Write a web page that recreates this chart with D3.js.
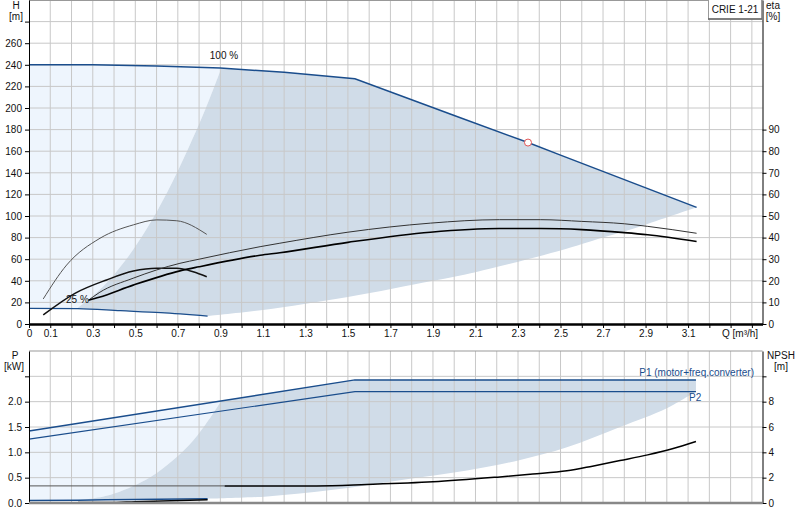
<html>
  <head>
    <title>CRIE 1-21</title>
    <script type="text/javascript" src="https://cdn.jsdelivr.net/npm/d3@7"></script>
    <style type="text/css">

body {
  margin: 0;
  font: 10px "Liberation Sans", Arial, sans-serif;
}

.grid line {
  stroke: #c8c8c8;
  stroke-width: 1px;
}

.axis text {
  font: 10px "Liberation Sans", Arial, sans-serif;
  fill: #111;
}

.axis line, .axis path {
  stroke: #000;
}

.curve {
  fill: none;
}

    </style>
  </head>
  <body>
    <script type="text/javascript">

// head at 100 % and 25 % speed
var qHead100 = [0, 0.3, 0.6, 0.9, 1.2, 1.533, 2.0, 2.347, 2.5, 3.14],
    head100  = [240, 240, 239, 237, 233, 227, 193, 168, 156.4, 108];
var qHead25 = [0, 0.23, 0.43, 0.62, 0.84],
    head25  = [14.5, 14.2, 12.3, 10.5, 7.3];

// operating range boundaries (top panel)
var qEdgeTop = [0.23, 0.35, 0.45, 0.55, 0.65, 0.75, 0.83, 0.905],
    hEdgeTop = [15, 35, 58, 87, 122, 163, 199, 237];
var qLowTop = [0.84, 1.1, 1.5, 1.9, 2.1, 2.5, 2.7, 2.9, 3.14],
    hLowTop = [7.3, 13, 25, 40, 48, 68, 80, 92, 108];

// efficiency, full speed
var qEta = [0.28, 0.33, 0.49, 0.71, 0.80, 1.087, 1.18, 1.5, 1.888, 2.212, 2.407, 2.6, 2.8, 2.91, 3.14],
    etaPump  = [11, 14.5, 21.2, 28.1, 30, 35.8, 37.4, 42.5, 46.7, 48.3, 48.3, 47.5, 46.4, 45.2, 42],
    etaTotal = [11, 12.4, 18.0, 24.6, 26.5, 31.8, 33.0, 37.8, 42.5, 44.2, 44.2, 43.7, 42.3, 41.3, 38.2];

// efficiency, min speed
var qEtaMinPump = [0.067, 0.177, 0.334, 0.491, 0.601, 0.695, 0.836],
    etaMinPump  = [11.6, 27.3, 39.7, 45.9, 48.2, 47.8, 41.5];
var qEtaMinTotal = [0.067, 0.216, 0.365, 0.491, 0.601, 0.695, 0.772, 0.836],
    etaMinTotal  = [4.2, 14.2, 20.4, 24.5, 25.8, 25.8, 24.2, 21.9];

// duty point
var dutyQ = 2.347, dutyH = 168;

// power
var qPower = [0, 1.533, 3.137],
    powerP1 = [1.42, 2.43, 2.43],
    powerP2 = [1.26, 2.20, 2.20];
var qPowerMin = [0, 0.23, 0.5, 0.84],
    powerMinP1 = [0.05, 0.055, 0.07, 0.085];

// operating range boundaries (bottom panel)
var qEdgeBot = [0.23, 0.38, 0.55, 0.65, 0.75, 0.83, 0.905],
    pEdgeBot = [0.055, 0.16, 0.46, 0.75, 1.13, 1.55, 2.02];
var qLowBot = [0.84, 1.12, 1.43, 1.745, 2.06, 2.31, 2.53, 2.78, 3.0, 3.137],
    pLowBot = [0.085, 0.13, 0.26, 0.45, 0.64, 0.85, 1.1, 1.5, 1.87, 2.2];

// NPSH
var qNpshFlat = [0, 0.92],
    npshFlat  = [1.35, 1.35];
var qNpsh = [0.92, 1.353, 1.588, 1.90, 2.215, 2.37, 2.53, 2.65, 2.78, 2.91, 3.03, 3.137],
    npsh  = [1.35, 1.35, 1.46, 1.67, 2.06, 2.28, 2.54, 2.91, 3.35, 3.8, 4.3, 4.85];
var qNpshMin = [0.23, 0.38, 0.5, 0.84],
    npshMin  = [0.03, 0.03, 0.1, 0.25];

// ticks
var qTicks = d3.range(0, 35).map(function(i) { return i / 10; });
var hTicks = d3.range(0, 281, 20),
    etaTicks = d3.range(0, 91, 10),
    pTicks = [0, 0.5, 1, 1.5, 2, 2.5],
    npshTicks = [0, 2, 4, 6, 8, 10];

var w = 800, h = 520;

var x = d3.scaleLinear().domain([0, 3.45]).range([29, 762.5]),
    yH = d3.scaleLinear().domain([0, 300]).range([324, 0]),
    yEta = d3.scaleLinear().domain([0, 150]).range([324, 0]),
    yP = d3.scaleLinear().domain([0, 3]).range([503, 351]),
    yN = d3.scaleLinear().domain([0, 12]).range([503, 351]);

var blue = "#1a4d8c", light = "#eef5fd", dark = "#d0dce8";

var svg = d3.select("body").append("svg")
    .attr("width", w)
    .attr("height", h);

function pts(qs, vs, ys) {
  return qs.map(function(q, i) { return [x(q), ys(vs[i])]; });
}

function seg(p, curve, first) {
  var s = d3.line().curve(curve)(p);
  return first ? s : s.replace(/^M/, "L");
}

var lin = d3.curveLinear, cr = d3.curveCatmullRom.alpha(0.5), mono = d3.curveMonotoneX;

// ---- top panel fills
var top100 = pts(qHead100, head100, yH);
var headLeft = top100.filter(function(d, i) { return qHead100[i] <= 0.9; });
var headRight = top100.filter(function(d, i) { return qHead100[i] > 0.9; });
var edgeTop = pts(qEdgeTop, hEdgeTop, yH);
var low25 = pts(qHead25, head25, yH);

var lightTop = seg(headLeft.concat([edgeTop[edgeTop.length - 1]]), lin, true)
    + seg(edgeTop.slice().reverse(), cr)
    + seg(low25.filter(function(d, i) { return qHead25[i] <= 0.23; }).reverse(), lin)
    + "Z";

var darkTop = seg([edgeTop[edgeTop.length - 1]].concat(headRight), lin, true)
    + seg(pts(qLowTop, hLowTop, yH).reverse(), cr)
    + seg(low25.filter(function(d, i) { return qHead25[i] >= 0.23; }).reverse(), cr)
    + seg(edgeTop, cr)
    + "Z";

svg.append("path").attr("d", lightTop).attr("fill", light);
svg.append("path").attr("d", darkTop).attr("fill", dark);

// ---- bottom panel fills
var p1 = pts(qPower, powerP1, yP);
var edgeBot = pts(qEdgeBot, pEdgeBot, yP);
var minP1 = pts(qPowerMin, powerMinP1, yP);
var crossPt = edgeBot[edgeBot.length - 1];

var lightBot = seg([p1[0], crossPt], lin, true)
    + seg(edgeBot.slice().reverse(), cr)
    + seg(minP1.filter(function(d, i) { return qPowerMin[i] <= 0.23; }).reverse(), lin)
    + "Z";

var lowBot = pts(qLowBot, pLowBot, yP);
var darkBot = seg([crossPt, p1[1], p1[2]], lin, true)
    + seg(lowBot.slice().reverse(), cr)
    + seg(minP1.filter(function(d, i) { return qPowerMin[i] >= 0.23; }).reverse(), lin)
    + seg(edgeBot, cr)
    + "Z";

svg.append("path").attr("d", lightBot).attr("fill", light);
svg.append("path").attr("d", darkBot).attr("fill", dark);

// ---- grid
var grid = svg.append("g").attr("class", "grid");

[[0, 324], [351, 503]].forEach(function(r) {
  grid.selectAll(null)
      .data(qTicks.slice(1))
    .enter().append("line")
      .attr("x1", function(d) { return x(d); })
      .attr("x2", function(d) { return x(d); })
      .attr("y1", r[0])
      .attr("y2", r[1]);
});

grid.selectAll(null)
    .data(hTicks.slice(1))
  .enter().append("line")
    .attr("x1", x(0)).attr("x2", x(3.45))
    .attr("y1", function(d) { return yH(d); })
    .attr("y2", function(d) { return yH(d); });

grid.selectAll(null)
    .data(pTicks.slice(1))
  .enter().append("line")
    .attr("x1", x(0)).attr("x2", x(3.45))
    .attr("y1", function(d) { return yP(d); })
    .attr("y2", function(d) { return yP(d); });

// frame tops
svg.append("line").attr("x1", x(0)).attr("x2", x(3.45)).attr("y1", 0.5).attr("y2", 0.5)
    .attr("stroke", "#999");
svg.append("line").attr("x1", x(0)).attr("x2", x(3.45)).attr("y1", yP(3)).attr("y2", yP(3))
    .attr("stroke", "#999");

// ---- curves
function curve(qs, vs, ys, color, width, c) {
  svg.append("path")
      .attr("class", "curve")
      .attr("d", d3.line().curve(c || mono)(pts(qs, vs, ys)))
      .attr("stroke", color)
      .attr("stroke-width", width);
}

curve(qHead100, head100, yH, blue, 1.5, lin);
curve(qHead25, head25, yH, blue, 1.2);

curve(qEtaMinPump, etaMinPump, yEta, "#555", 1);
curve(qEtaMinTotal, etaMinTotal, yEta, "#111", 1.5);
curve(qEta, etaPump, yEta, "#333", 1);
curve(qEta, etaTotal, yEta, "#000", 1.6);

curve(qPower, powerP1, yP, blue, 1.5, lin);
curve(qPower, powerP2, yP, blue, 1.2, lin);
curve(qPowerMin, powerMinP1, yP, blue, 1.5);

curve(qNpshFlat, npshFlat, yN, "#555", 1, lin);
curve(qNpsh, npsh, yN, "#000", 1.5);
curve(qNpshMin, npshMin, yN, "#000", 1.5);

svg.append("circle")
    .attr("cx", x(dutyQ))
    .attr("cy", yH(dutyH))
    .attr("r", 3.5)
    .attr("fill", "#fff")
    .attr("stroke", "#e25555");

// ---- axes
var xAxis = svg.append("g")
    .attr("class", "axis")
    .attr("transform", "translate(0,324)")
    .call(d3.axisBottom(x)
      .tickValues(qTicks)
      .tickSize(4)
      .tickSizeOuter(0)
      .tickPadding(2)
      .tickFormat(function(d, i) { return (i === 0 || (i % 2 === 1 && i <= 31)) ? (i === 0 ? "0" : d.toFixed(1)) : ""; }));
xAxis.select(".domain").attr("stroke", "#888").attr("stroke-width", 2.5);

svg.append("g")
    .attr("class", "axis")
    .attr("transform", "translate(" + x(0) + ",0)")
    .call(d3.axisLeft(yH)
      .tickValues(hTicks)
      .tickSize(4)
      .tickSizeOuter(0)
      .tickFormat(function(d) { return d <= 260 ? d : ""; }));

svg.append("g")
    .attr("class", "axis")
    .attr("transform", "translate(" + x(3.45) + ",0)")
    .call(d3.axisRight(yEta)
      .tickValues(etaTicks)
      .tickSize(4)
      .tickSizeOuter(0)
      .tickPadding(2));

svg.append("g")
    .attr("class", "axis")
    .attr("transform", "translate(" + x(0) + ",0)")
    .call(d3.axisLeft(yP)
      .tickValues(pTicks)
      .tickSize(4)
      .tickSizeOuter(0)
      .tickFormat(function(d) { return d < 2.5 ? d.toFixed(1) : ""; }));

svg.append("g")
    .attr("class", "axis")
    .attr("transform", "translate(" + x(3.45) + ",0)")
    .call(d3.axisRight(yN)
      .tickValues(npshTicks)
      .tickSize(4)
      .tickSizeOuter(0)
      .tickPadding(2)
      .tickFormat(function(d) { return d < 10 ? d : ""; }));

svg.append("line")
    .attr("x1", x(0)).attr("x2", x(3.45))
    .attr("y1", yP(0)).attr("y2", yP(0))
    .attr("stroke", "#888").attr("stroke-width", 2.5);

// ---- labels
function label(t, lx, ly, anchor, color) {
  svg.append("text")
      .attr("x", lx)
      .attr("y", ly)
      .attr("text-anchor", anchor || "start")
      .attr("fill", color || "#111")
      .text(t);
}

label("H", 16, 9, "middle");
label("[m]", 16, 20, "middle");
label("eta", 773, 9, "middle");
label("[%]", 773, 20, "middle");
label("P", 15, 359, "middle");
label("[kW]", 14, 370, "middle");
label("NPSH", 781, 359, "middle");
label("[m]", 781, 370, "middle");
label("Q [m\u00b3/h]", 722, 337);
label("100 %", 224, 59, "middle");
label("25 %", 66, 303);
label("P1 (motor+freq.converter)", 754, 376, "end", blue);
label("P2", 689, 401, "start", blue);

svg.append("rect")
    .attr("x", 708.5)
    .attr("y", -1)
    .attr("width", 53)
    .attr("height", 20)
    .attr("fill", "#fff")
    .attr("stroke", "#999");
svg.append("line")
    .attr("x1", 708).attr("x2", 762)
    .attr("y1", 19).attr("y2", 19)
    .attr("stroke", "#666").attr("stroke-width", 1.5);
label("CRIE 1-21", 735, 13, "middle");

    </script>
  </body>
</html>
